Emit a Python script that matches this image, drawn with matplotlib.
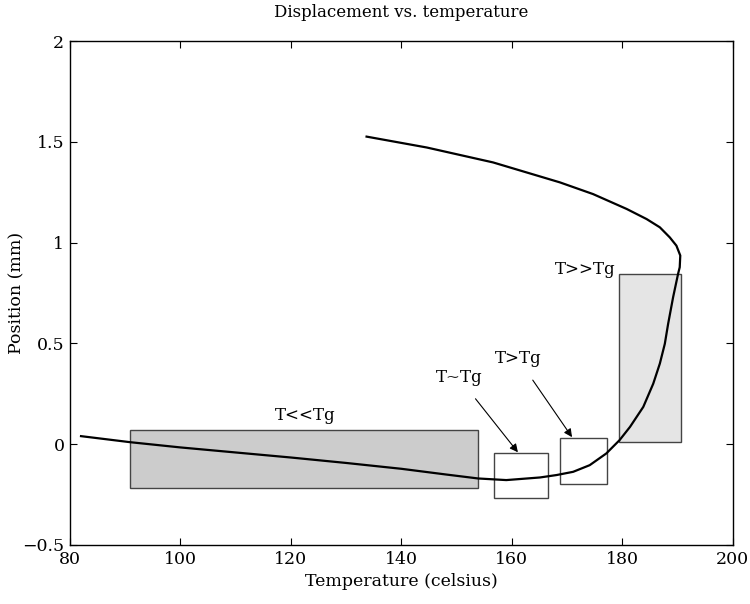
import matplotlib
matplotlib.use('Agg')
import matplotlib.pyplot as plt
from matplotlib.patches import Rectangle

plt.rcParams['font.family'] = ['DejaVu Serif']
plt.rcParams['mathtext.fontset'] = 'dejavuserif'

# displacement curve, ordered along the measurement path
temp = [82.0, 90.9, 100.0, 110.0, 120.0, 130.0, 140.0, 148.0, 153.9, 159.0,
        165.1, 168.1, 171.1, 174.1, 177.1, 179.5, 181.4, 183.8, 185.6, 186.8,
        187.7, 188.3, 189.2, 190.1, 190.4, 190.5, 189.8, 188.6, 186.8, 184.4,
        180.8, 174.7, 168.7, 156.6, 144.6, 133.7]
pos = [0.040, 0.010, -0.016, -0.041, -0.066, -0.093, -0.122, -0.150, -0.170, -0.178,
       -0.165, -0.153, -0.137, -0.104, -0.046, 0.020, 0.086, 0.185, 0.300, 0.400,
       0.498, 0.597, 0.729, 0.845, 0.878, 0.936, 0.985, 1.026, 1.076, 1.117,
       1.167, 1.241, 1.299, 1.398, 1.472, 1.526]

# regions: (label, x0, x1, y0, y1, fill)
box_labels = ['T<<Tg', 'T~Tg', 'T>Tg', 'T>>Tg']
box_x0 = [90.9, 156.7, 168.7, 179.4]
box_x1 = [153.8, 166.5, 177.2, 190.6]
box_y0 = [-0.218, -0.267, -0.195, 0.011]
box_y1 = [0.069, -0.045, 0.031, 0.843]
box_fill = ['#cccccc', 'white', 'white', '#e5e5e5']

x_ticks = [80, 100, 120, 140, 160, 180, 200]
y_ticks = [-0.5, 0, 0.5, 1, 1.5, 2]
y_tick_labels = ['\u22120.5', '0', '0.5', '1', '1.5', '2']

fig = plt.figure(figsize=(7.5, 6.04), dpi=100)
ax = fig.add_axes([0.0933, 0.0977, 0.977 - 0.0933, 0.932 - 0.0977])

for lab, x0, x1, y0, y1, fc in zip(box_labels, box_x0, box_x1, box_y0, box_y1, box_fill):
    ax.add_patch(Rectangle((x0, y0), x1 - x0, y1 - y0, facecolor=fc,
                           edgecolor='#444444', linewidth=1.0, zorder=1))

ax.plot(temp, pos, color='black', linewidth=1.6, zorder=3,
        solid_joinstyle='round')

# labels
ax.text(122.5, 0.144, box_labels[0], ha='center', va='center', fontsize=12)
ax.text(173.2, 0.866, box_labels[3], ha='center', va='center', fontsize=12)
ax.annotate(box_labels[1], xy=(161.1, -0.04), xytext=(150.4, 0.33),
            ha='center', va='center', fontsize=12,
            arrowprops=dict(arrowstyle='-|>', color='black', lw=0.8,
                            mutation_scale=12, shrinkA=9, shrinkB=0))
ax.annotate(box_labels[2], xy=(170.9, 0.035), xytext=(161.1, 0.425),
            ha='center', va='center', fontsize=12,
            arrowprops=dict(arrowstyle='-|>', color='black', lw=0.8,
                            mutation_scale=12, shrinkA=9, shrinkB=0))

ax.set_xlim(80, 200)
ax.set_ylim(-0.5, 2)
ax.set_xticks(x_ticks)
ax.set_yticks(y_ticks)
ax.set_yticklabels(y_tick_labels)
ax.tick_params(direction='in', length=5, width=0.8, labelsize=12.5,
               top=True, right=True, pad=4)
for s in ax.spines.values():
    s.set_linewidth(1.0)

ax.set_xlabel('Temperature (celsius)', fontsize=12.5)
ax.set_ylabel('Position (mm)', fontsize=12.5)
ax.yaxis.set_label_coords(-0.068, 0.5)
ax.set_title('Displacement vs. temperature', fontsize=12, pad=17)

fig.savefig('out.png', dpi=100)
